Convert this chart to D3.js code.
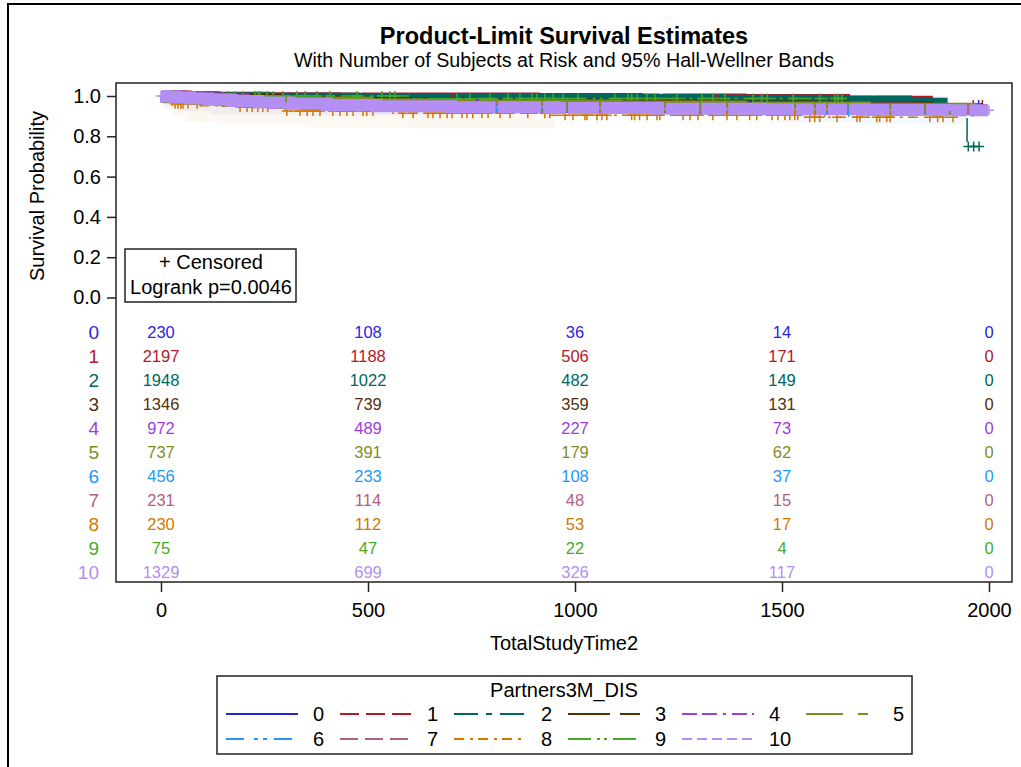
<!DOCTYPE html>
<html>
<head>
<meta charset="utf-8">
<script src="https://cdn.jsdelivr.net/npm/d3@7"></script>
<style>
  html, body { margin: 0; padding: 0; background: #fff; }
  svg { display: block; font-family: "Liberation Sans", Arial, sans-serif; }
</style>
</head>
<body>
<svg id="chart" width="1021" height="767"></svg>
<script>
// ---- Groups (Partners3M_DIS strata) ----
const groupNames  = ["0", "1", "2", "3", "4", "5", "6", "7", "8", "9", "10"];
const groupColors = ["#2A25D9", "#B2182B", "#01665E", "#543005", "#9D3CDB", "#7F8E1F",
                     "#2597FA", "#B26084", "#D17800", "#47A82A", "#B38EF3"];
const groupDashes = ["", "19,7", "24,8,6,8", "42,10", "15,5,15,6,3,6", "37,15,10,10",
                     "18,10,4,5,4,7", "18,7", "10,6,3,5", "23,6,3,4,3,6", "10,5"];

// ---- Axes ----
const timeTicks = [0, 500, 1000, 1500, 2000];
const survTicks = [0, 0.2, 0.4, 0.6, 0.8, 1.0];

// ---- Number of subjects at risk at each time tick ----
const atRisk0  = [230, 108, 36, 14, 0];
const atRisk1  = [2197, 1188, 506, 171, 0];
const atRisk2  = [1948, 1022, 482, 149, 0];
const atRisk3  = [1346, 739, 359, 131, 0];
const atRisk4  = [972, 489, 227, 73, 0];
const atRisk5  = [737, 391, 179, 62, 0];
const atRisk6  = [456, 233, 108, 37, 0];
const atRisk7  = [231, 114, 48, 15, 0];
const atRisk8  = [230, 112, 53, 17, 0];
const atRisk9  = [75, 47, 22, 4, 0];
const atRisk10 = [1329, 699, 326, 117, 0];

// ---- Product-limit estimates: [time, survival after the event] ----
const steps0  = [[0,1],[25,0.996],[70,0.991],[160,0.986],[300,0.98],[520,0.974],[800,0.968],[1100,0.962],[1450,0.955]];
const steps1  = [[0,1],[20,0.997],[60,0.994],[130,0.991],[250,0.989],[420,0.988],[650,0.987],[900,0.985],[1150,0.983],[1400,0.98],[1650,0.972],[1850,0.955]];
const steps2  = [[0,1],[15,0.996],[50,0.992],[120,0.989],[260,0.986],[480,0.984],[760,0.982],[1050,0.98],[1350,0.977],[1600,0.973],[1800,0.962],[1947,0.75]];
const steps3  = [[0,1],[20,0.995],[70,0.988],[150,0.98],[280,0.972],[480,0.965],[750,0.958],[1050,0.953],[1350,0.948],[1650,0.942],[1850,0.936]];
const steps4  = [[0,1],[15,0.998],[45,0.994],[90,0.988],[140,0.981],[200,0.974],[270,0.966],[350,0.96],[450,0.955],[600,0.95],[800,0.946],[1050,0.943],[1300,0.94],[1550,0.937],[1800,0.934]];
const steps5  = [[0,1],[20,0.994],[70,0.985],[160,0.975],[300,0.966],[500,0.959],[800,0.953],[1100,0.948],[1400,0.943],[1700,0.937]];
const steps6  = [[0,1],[25,0.993],[80,0.982],[170,0.97],[300,0.958],[500,0.948],[750,0.94],[1000,0.935],[1300,0.929],[1600,0.922]];
const steps7  = [[0,1],[30,0.995],[100,0.985],[220,0.975],[300,0.962],[520,0.955],[850,0.948],[1250,0.94],[1600,0.93]];
const steps8  = [[0,1],[10,0.988],[20,0.975],[32,0.962],[90,0.952],[180,0.945],[300,0.925],[560,0.915],[940,0.905],[1540,0.895]];
const steps9  = [[0,1],[600,0.988]];
const steps10 = [[0,1],[12,0.997],[35,0.993],[70,0.988],[115,0.982],[170,0.975],[235,0.968],[310,0.961],[400,0.955],[520,0.949],[700,0.944],[950,0.94],[1200,0.937],[1450,0.934],[1700,0.931],[1900,0.929]];

// ---- Censoring times (individual "+" marks) ----
const censor0  = [30, 58, 91, 134, 172, 233, 281, 338, 404, 466, 547, 603, 694, 757, 853, 926, 1013, 1088, 1183, 1262, 1347, 1436, 1518, 1612, 1703, 1788, 1884, 1975];
const censor1  = [1962, 1984];
const censor2  = [1950, 1963, 1976];
const censor3  = [];
const censor4  = [];
const censor5  = [];
const censor6  = [8, 19, 33, 48, 66, 92, 118, 145, 181, 214, 246, 289, 322, 361, 395, 436, 478, 512, 556, 601, 648, 702, 745, 811, 818, 866, 912, 970, 1012, 1050, 1097, 1148, 1186, 1220, 1230, 1279, 1331, 1404, 1452, 1498, 1547, 1603, 1661, 1708, 1766, 1815, 1873, 1921, 1960];
const censor7  = [12, 40, 77, 121, 168, 205, 262, 318, 371, 433, 489, 547, 612, 676, 738, 804, 871, 940, 1011, 1083, 1162, 1229, 1306, 1392, 1466, 1548, 1627, 1714, 1802, 1888, 1950];
const censor8  = [27, 34, 41, 48, 53, 65, 87, 191, 208, 220, 234, 246, 258, 304, 336, 353, 367, 384, 415, 432, 449, 464, 488, 497, 512, 584, 609, 645, 657, 674, 691, 703, 727, 739, 753, 775, 790, 819, 843, 886, 927, 939, 976, 995, 1024, 1029, 1053, 1065, 1077, 1137, 1144, 1156, 1174, 1198, 1205, 1261, 1278, 1297, 1333, 1367, 1391, 1422, 1439, 1476, 1490, 1507, 1519, 1531, 1538, 1567, 1579, 1591, 1633, 1681, 1688, 1729, 1736, 1753, 1761, 1857, 1876, 1889, 1913];
const censor9  = [46, 75, 94, 162, 179, 198, 227, 234, 239, 256, 271, 295, 328, 348, 377, 408, 473, 534, 553, 565, 715, 746, 795, 838, 867, 896, 908, 927, 947, 971, 1007, 1096, 1128, 1137, 1150, 1174, 1193, 1246, 1307, 1333, 1362, 1430, 1451, 1464, 1527, 1591, 1628, 1635, 1645];
const censor10 = [0, 2000];

// ---- Stretches of dense censoring, where the "+" marks merge: [from, to] ----
const runs0  = [];
const runs1  = [[0,480],[486,1205],[1212,1720],[1727,1880]];
const runs2  = [[0,700],[706,1340],[1346,1900]];
const runs3  = [[0,900],[908,1600],[1608,1985]];
const runs4  = [[0,560],[568,1130],[1138,1680],[1688,1980]];
const runs5  = [[0,760],[768,1420],[1428,1970]];
const runs6  = [];
const runs7  = [];
const runs8  = [];
const runs9  = [];
const runs10 = [[0,300],[304,808],[814,918],[923,978],[983,1058],[1063,1215],[1220,1300],[1305,1365],[1370,1529],[1534,1577],[1582,1606],[1611,1657],[1662,1759],[1764,1843],[1848,1903],[1908,1947],[1952,1998]];

// ---- 95% Hall-Wellner bands: [time, lower, upper] ----
const band0 = [[8,0.95,1],[40,0.925,1],[120,0.91,1],[330,0.905,1],[700,0.91,1],[1300,0.905,1],[1900,0.905,1]];
const band6 = [[10,0.97,1],[300,0.93,0.99],[800,0.915,0.975],[1200,0.905,0.97],[1500,0.87,0.975],[1700,0.86,0.975],[1940,0.86,0.975]];
const band8 = [[10,0.93,1],[30,0.9,1],[60,0.87,1],[150,0.86,0.995],[350,0.845,0.99],[600,0.84,0.985],[950,0.84,0.985]];

const atRisk = [atRisk0, atRisk1, atRisk2, atRisk3, atRisk4, atRisk5, atRisk6, atRisk7, atRisk8, atRisk9, atRisk10];
const stepsAll = [steps0, steps1, steps2, steps3, steps4, steps5, steps6, steps7, steps8, steps9, steps10];
const censorAll = [censor0, censor1, censor2, censor3, censor4, censor5, censor6, censor7, censor8, censor9, censor10];
const runsAll = [runs0, runs1, runs2, runs3, runs4, runs5, runs6, runs7, runs8, runs9, runs10];
const bands = [{g: 0, rows: band0}, {g: 6, rows: band6}, {g: 8, rows: band8}];

// ---- Layout ----
const FONT = '"Liberation Sans", Arial, sans-serif';
const plot = {left: 116, top: 83, right: 1012, bottom: 582};
const x = d3.scaleLinear().domain([0, 2000]).range([161, 989]);
const y = d3.scaleLinear().domain([0, 1]).range([297.5, 96]);
const MARK = 5;      // half size of a single censoring mark
const RUN_W = 12;    // height of a stretch of merged marks

const svg = d3.select("#chart");

// figure frame
svg.append("path").attr("d", "M8,767 V4 H1021")
  .attr("fill", "none").attr("stroke", "#000").attr("stroke-width", 2);

// titles
svg.append("text").attr("x", 564).attr("y", 36).attr("dy", "0.36em")
  .attr("text-anchor", "middle").attr("font-size", 23.5).attr("font-weight", "bold")
  .text("Product-Limit Survival Estimates");
svg.append("text").attr("x", 564).attr("y", 60).attr("dy", "0.36em")
  .attr("text-anchor", "middle").attr("font-size", 19.7)
  .text("With Number of Subjects at Risk and 95% Hall-Wellner Bands");

// plot frame
svg.append("rect").attr("x", plot.left).attr("y", plot.top)
  .attr("width", plot.right - plot.left).attr("height", plot.bottom - plot.top)
  .attr("fill", "#fff").attr("stroke", "#222").attr("stroke-width", 1.5);

// axes
const yAxis = svg.append("g").attr("transform", `translate(${plot.left},0)`)
  .call(d3.axisLeft(y).tickValues(survTicks).tickFormat(d3.format(".1f")).tickSize(9).tickPadding(6));
const xAxis = svg.append("g").attr("transform", `translate(0,${plot.bottom})`)
  .call(d3.axisBottom(x).tickValues(timeTicks).tickFormat(d3.format("d")).tickSize(10).tickPadding(11));
[yAxis, xAxis].forEach(a => {
  a.select(".domain").remove();
  a.attr("font-family", FONT).attr("font-size", 20);
  a.selectAll("line").attr("stroke", "#222").attr("stroke-width", 1.5);
  a.selectAll("text").attr("fill", "#000");
});

svg.append("text")
  .attr("transform", "translate(37,196) rotate(-90)").attr("dy", "0.36em")
  .attr("text-anchor", "middle").attr("font-size", 20).text("Survival Probability");
svg.append("text").attr("x", 564).attr("y", 643).attr("dy", "0.36em")
  .attr("text-anchor", "middle").attr("font-size", 20).text("TotalStudyTime2");

// ---- Survival curves ----
const survAt = (steps, t) => { let s = 1; for (const [ti, si] of steps) if (ti <= t) s = si; return s; };
const stepLine = d3.line().x(d => x(d[0])).y(d => y(d[1])).curve(d3.curveStepAfter);

const curves = svg.append("g");

// confidence bands
bands.forEach(b => {
  curves.append("path")
    .attr("d", d3.area().x(d => x(d[0])).y0(d => y(d[1])).y1(d => y(d[2])).curve(d3.curveStepAfter)(b.rows))
    .attr("fill", groupColors[b.g]).attr("fill-opacity", 0.055).attr("stroke", "none");
});

stepsAll.forEach((steps, g) => {
  const color = groupColors[g];
  const censor = censorAll[g], runs = runsAll[g];
  const lastT = d3.max([...censor, ...runs.map(r => r[1]), steps[steps.length - 1][0]]);
  const pts = steps.concat([[lastT, survAt(steps, lastT)]]);
  const gg = curves.append("g");

  gg.append("path").attr("d", stepLine(pts))
    .attr("fill", "none").attr("stroke", color).attr("stroke-width", 1.5)
    .attr("stroke-dasharray", groupDashes[g] || null);

  // merged censoring marks
  runs.forEach(([a, b]) => {
    const seg = [[a, survAt(steps, a)]]
      .concat(steps.filter(d => d[0] > a && d[0] <= b))
      .concat([[b, survAt(steps, b)]]);
    gg.append("path").attr("d", stepLine(seg))
      .attr("fill", "none").attr("stroke", color).attr("stroke-width", RUN_W)
      .attr("stroke-linecap", "butt").attr("stroke-linejoin", "miter");
  });

  // individual censoring marks
  gg.selectAll("path.mark").data(censor).join("path").attr("class", "mark")
    .attr("d", t => {
      const cx = x(t), cy = y(survAt(steps, t));
      return `M${cx - MARK},${cy}H${cx + MARK}M${cx},${cy - MARK}V${cy + MARK}`;
    })
    .attr("fill", "none").attr("stroke", color).attr("stroke-width", 1.5);
});

// ---- Censored / logrank inset ----
svg.append("rect").attr("x", 125).attr("y", 249).attr("width", 171).attr("height", 53)
  .attr("fill", "#fff").attr("stroke", "#222").attr("stroke-width", 1.5);
svg.append("text").attr("x", 211).attr("y", 262).attr("dy", "0.36em")
  .attr("text-anchor", "middle").attr("font-size", 20).text("+ Censored");
svg.append("text").attr("x", 211).attr("y", 287).attr("dy", "0.36em")
  .attr("text-anchor", "middle").attr("font-size", 20).text("Logrank p=0.0046");

// ---- At-risk table ----
const riskTable = svg.append("g");
groupNames.forEach((name, g) => {
  const rowY = 332 + g * 24;
  riskTable.append("text").attr("x", 99).attr("y", rowY).attr("dy", "0.36em")
    .attr("text-anchor", "end").attr("font-size", 19).attr("fill", groupColors[g]).text(name);
  riskTable.selectAll(null).data(atRisk[g]).join("text")
    .attr("x", (d, i) => x(timeTicks[i])).attr("y", rowY).attr("dy", "0.36em")
    .attr("text-anchor", "middle").attr("font-size", 16.5).attr("fill", groupColors[g])
    .text(d => d);
});

// ---- Legend ----
const legend = svg.append("g");
legend.append("rect").attr("x", 217).attr("y", 676).attr("width", 695).attr("height", 78)
  .attr("fill", "#fff").attr("stroke", "#222").attr("stroke-width", 1.5);
legend.append("text").attr("x", 564).attr("y", 690).attr("dy", "0.36em")
  .attr("text-anchor", "middle").attr("font-size", 20).text("Partners3M_DIS");
const legendCols = [226, 340, 454, 568, 682, 806];
groupNames.forEach((name, g) => {
  const row = g < 6 ? 0 : 1, col = g < 6 ? g : g - 6;
  const lx = legendCols[col], ly = 714 + row * 25;
  legend.append("line").attr("x1", lx).attr("x2", lx + 72).attr("y1", ly).attr("y2", ly)
    .attr("stroke", groupColors[g]).attr("stroke-width", 2)
    .attr("stroke-dasharray", groupDashes[g] || null);
  legend.append("text").attr("x", lx + 87).attr("y", ly).attr("dy", "0.36em")
    .attr("font-size", 20).text(name);
});
</script>
</body>
</html>
